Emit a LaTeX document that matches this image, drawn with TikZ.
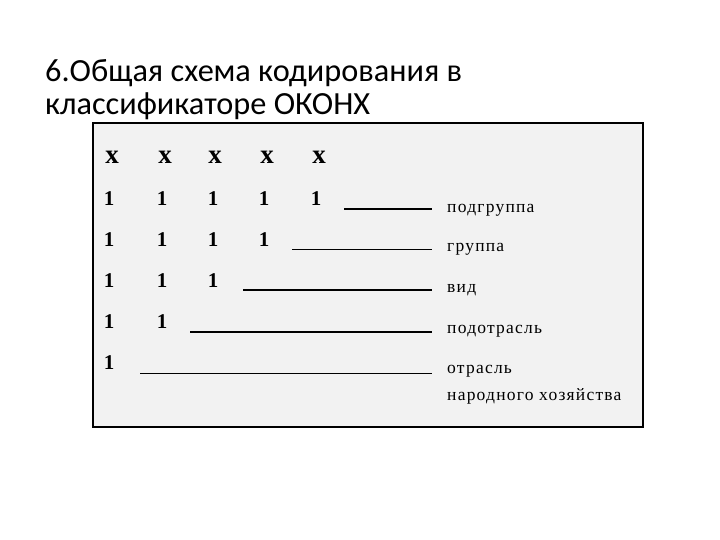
\documentclass[tikz,border=0pt]{standalone}
\usepackage{fontspec}
\setmainfont{Carlito}
\newfontfamily\codefont{Liberation Serif}
\newfontfamily\labfont[LetterSpace=7]{Liberation Serif}
\definecolor{boxgray}{HTML}{F2F2F2}
\tikzset{
  title/.style={anchor=base west, inner sep=0pt, font=\fontsize{32.3}{34}\selectfont, align=left},
  digit/.style={inner sep=0pt, font=\codefont\bfseries\fontsize{21}{21}\selectfont},
  xmark/.style={inner sep=0pt, font=\codefont\bfseries\fontsize{27}{27}\selectfont},
  lab/.style={anchor=west, inner sep=0pt, font=\labfont\fontsize{17.5}{23}\selectfont, align=left},
  thick line/.style={line width=1.4pt},
  thin line/.style={line width=0.8pt}
}
\begin{document}
\begin{tikzpicture}[x=1pt,y=-1pt]
\useasboundingbox (0,0) rectangle (720,540);
\fill[white] (0,0) rectangle (720,540);
% title
\node[title] (t1) at (45,82) {6.Общая схема кодирования в};
\node[title] (t2) at (45,115) {классификаторе ОКОНХ};
% box
\draw[fill=boxgray, line width=1.2pt] (93,123) rectangle (643,427);
% x row
\foreach \c [count=\i] in {112,165,215,267,319} {
  \node[xmark] (x\i) at (\c,157.5) {x};
}
% rows of ones
\foreach \c [count=\i] in {109,162,213,264,316} \node[digit] (a\i) at (\c,199) {1};
\foreach \c [count=\i] in {109,162,213,264} \node[digit] (b\i) at (\c,240) {1};
\foreach \c [count=\i] in {109,162,213} \node[digit] (d\i) at (\c,281) {1};
\foreach \c [count=\i] in {109,162} \node[digit] (e\i) at (\c,322) {1};
\node[digit] (f1) at (109,363) {1};
% labels
\node[lab] (L1) at (447,210) {подгруппа};
\node[lab] (L2) at (447,249) {группа};
\node[lab] (L3) at (447,290) {вид};
\node[lab] (L4) at (447,331) {подотрасль};
\node[lab, anchor=north west] (L5) at (447,365) {отрасль\\[4pt]народного хозяйства};
% connector start points
\coordinate (s1) at (344,209);
\coordinate (s2) at (292,249);
\coordinate (s3) at (243,290);
\coordinate (s4) at (190,332);
\coordinate (s5) at (140,373);
\draw[thick line] (s1) -- (s1 -| 432,0);
\draw[thin line] (s2) -- (s2 -| 432,0);
\draw[thick line] (s3) -- (s3 -| 432,0);
\draw[thick line] (s4) -- (s4 -| 432,0);
\draw[thin line] (s5) -- (s5 -| 432,0);
\end{tikzpicture}
\end{document}
